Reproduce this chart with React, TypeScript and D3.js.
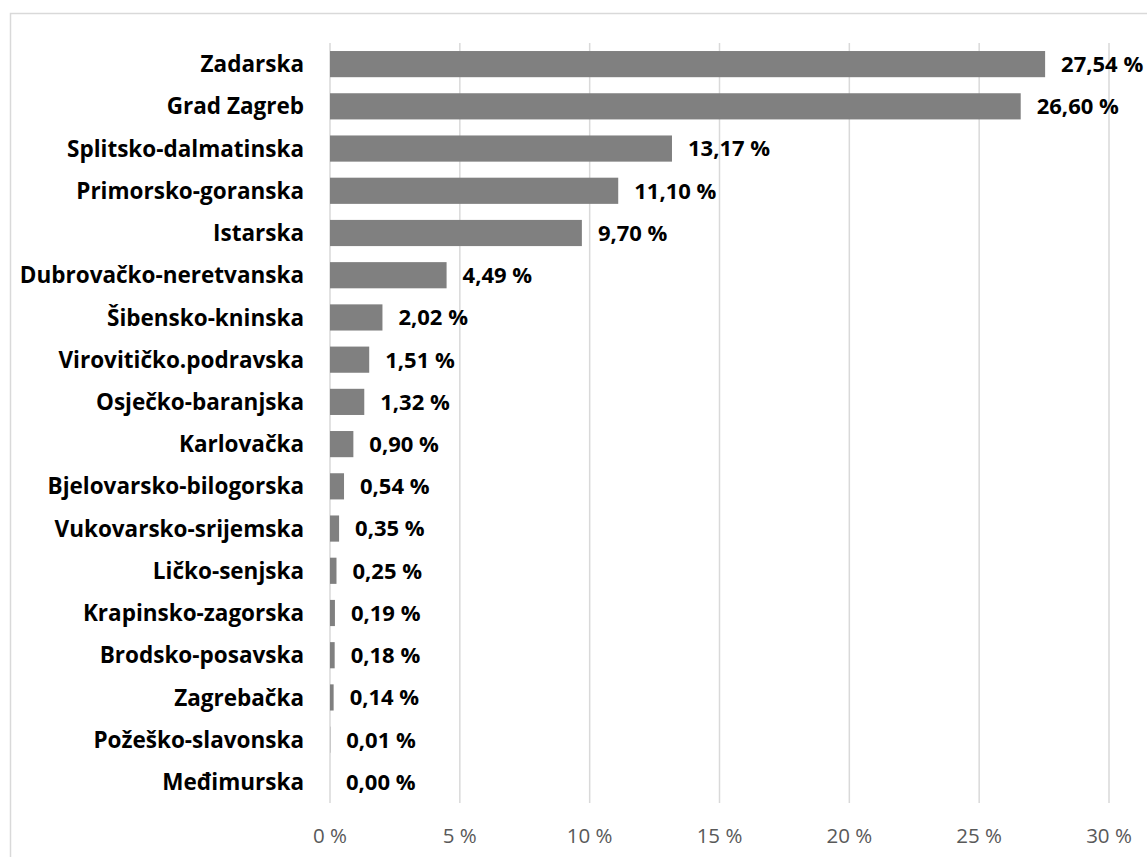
import React from 'react'
import * as d3 from 'd3'

const counties = [
  'Zadarska', 'Grad Zagreb', 'Splitsko-dalmatinska', 'Primorsko-goranska', 'Istarska',
  'Dubrovačko-neretvanska', 'Šibensko-kninska', 'Virovitičko.podravska', 'Osječko-baranjska',
  'Karlovačka', 'Bjelovarsko-bilogorska', 'Vukovarsko-srijemska', 'Ličko-senjska',
  'Krapinsko-zagorska', 'Brodsko-posavska', 'Zagrebačka', 'Požeško-slavonska', 'Međimurska',
]
const shares = [
  27.54, 26.6, 13.17, 11.1, 9.7, 4.49, 2.02, 1.51, 1.32, 0.9, 0.54, 0.35, 0.25, 0.19, 0.18, 0.14, 0.01, 0.0,
]
const xTicks = [0, 5, 10, 15, 20, 25, 30]

const width = 1147
const height = 857
const left = 330
const right = 1109
const top = 43
const bottom = 803
const font = '"Open Sans", Lato, sans-serif'

const fmt = (v: number) => v.toFixed(2).replace('.', ',') + ' %'

export default function App() {
  const x = d3.scaleLinear().domain([0, 30]).range([left, right])
  const y = d3.scaleBand<string>().domain(counties).range([top, bottom]).paddingInner(0.38).paddingOuter(0.19)

  return (
    <svg
      width={width}
      height={height}
      style={{ position: 'absolute', left: 0, top: 0, background: '#fff' }}
    >
      <rect x={10.5} y={13.5} width={width + 10} height={height + 10} fill="none" stroke="#d9d9d9" strokeWidth={1.5} />

      <g>
        {xTicks.map(t => (
          <line key={t} x1={x(t)} x2={x(t)} y1={top} y2={bottom} stroke="#d9d9d9" strokeWidth={1.5} />
        ))}
      </g>

      <g>
        {counties.map((c, i) => (
          <rect
            key={c}
            x={x(0)}
            y={y(c)}
            width={x(shares[i]) - x(0)}
            height={y.bandwidth()}
            fill="#808080"
          />
        ))}
      </g>

      <g fontFamily={font} fontWeight="bold" fill="#000">
        {counties.map(c => (
          <text key={c} x={304} y={(y(c) as number) + y.bandwidth() / 2} dy="0.36em" textAnchor="end" fontSize={22.5}>
            {c}
          </text>
        ))}
        {counties.map((c, i) => (
          <text key={c} x={x(shares[i]) + 16} y={(y(c) as number) + y.bandwidth() / 2} dy="0.36em" fontSize={22}>
            {fmt(shares[i])}
          </text>
        ))}
      </g>

      <g fontFamily={font} fontSize={20.5} fill="#595959">
        {xTicks.map(t => (
          <text key={t} x={x(t)} y={836} dy="0.36em" textAnchor="middle">
            {t + ' %'}
          </text>
        ))}
      </g>
    </svg>
  )
}
